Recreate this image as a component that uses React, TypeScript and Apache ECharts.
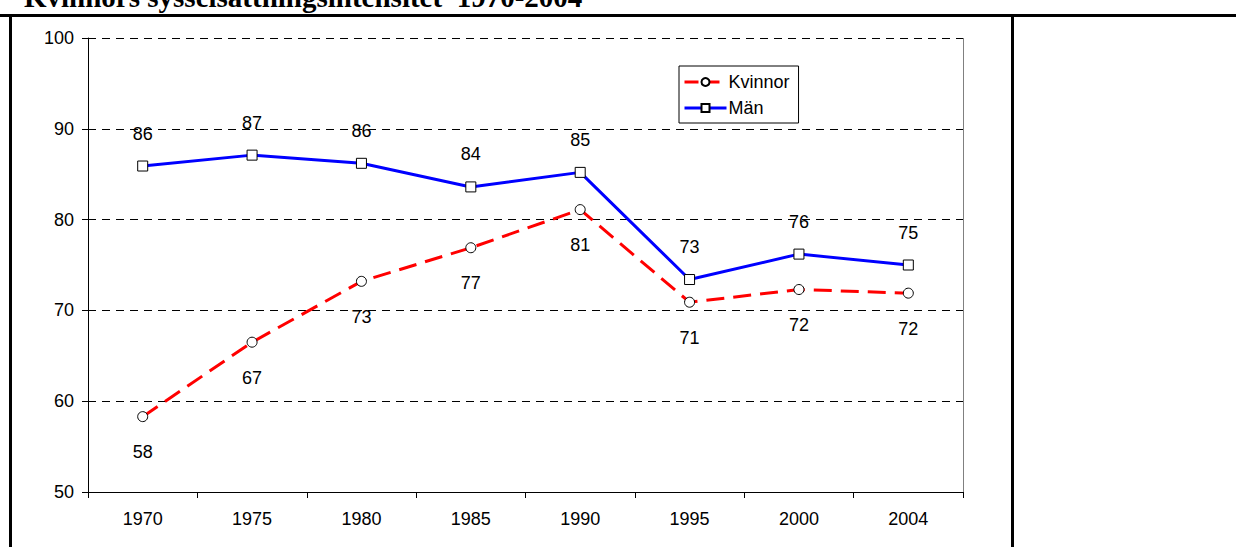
import React, { useEffect, useRef } from "react";
import * as echarts from "echarts";

const categories = ["1970", "1975", "1980", "1985", "1990", "1995", "2000", "2004"];
const kvinnor = [58.3, 66.5, 73.2, 76.9, 81.1, 70.9, 72.3, 71.9];
const man = [85.9, 87.1, 86.2, 83.6, 85.2, 73.4, 76.2, 75.0];
const titleText = "Kvinnors sysselsättningsintensitet  1970-2004";

const FONT = '"Liberation Sans", Arial, sans-serif';

export default function App() {
  const ref = useRef<HTMLDivElement>(null);
  useEffect(() => {
    if (!ref.current) return;
    const chart = echarts.init(ref.current, undefined, { renderer: "svg" });
    const gridLeft = 88, gridTop = 38, gridRight = 273, gridBottom = 55;
    chart.setOption({
      animation: false,
      backgroundColor: "#fff",
      textStyle: { fontFamily: FONT },
      grid: { left: gridLeft, top: gridTop, right: gridRight, bottom: gridBottom },
      legend: {
        orient: "vertical",
        left: 679,
        top: 66,
        padding: [5, 9, 4, 4],
        itemGap: 4,
        itemWidth: 42,
        itemHeight: 10,
        borderColor: "#000",
        borderWidth: 1,
        borderRadius: 0,
        textStyle: { fontSize: 18, color: "#000", fontFamily: FONT, lineHeight: 22, padding: [0, 0, 0, -3] },
        data: [
          { name: "Kvinnor", lineStyle: { width: 3, type: [14, 7], color: "#ff0000" } },
          { name: "Män", lineStyle: { width: 3, color: "#0000ff" } },
        ],
      },
      xAxis: {
        type: "category",
        data: categories,
        boundaryGap: true,
        axisLine: { lineStyle: { color: "#000", width: 1 } },
        axisTick: { show: true, length: 6, lineStyle: { color: "#000" } },
        axisLabel: { fontSize: 18, color: "#000", margin: 18, fontFamily: FONT },
        splitLine: { show: false },
      },
      yAxis: {
        type: "value",
        min: 50,
        max: 100,
        interval: 10,
        axisLine: { show: true, lineStyle: { color: "#000", width: 1 } },
        axisTick: { show: true, length: 6, lineStyle: { color: "#000" } },
        axisLabel: { fontSize: 18, color: "#000", margin: 14, fontFamily: FONT },
        splitLine: { show: true, lineStyle: { color: "#000", type: [8, 6], width: 1 } },
      },
      series: [
        {
          name: "Kvinnor",
          type: "line",
          data: kvinnor,
          symbol: "circle",
          symbolSize: 10,
          showAllSymbol: true,
          lineStyle: { color: "#ff0000", width: 3, type: [18, 9] },
          itemStyle: { color: "#fff", borderColor: "#000", borderWidth: 1 },
          label: {
            show: true,
            position: "bottom",
            distance: 21,
            fontSize: 18,
            color: "#000",
            fontFamily: FONT,
            formatter: (p: any) => String(Math.round(p.value)),
          },
          z: 3,
        },
        {
          name: "Män",
          type: "line",
          data: man,
          symbol: "rect",
          symbolSize: 10,
          showAllSymbol: true,
          lineStyle: { color: "#0000ff", width: 3 },
          itemStyle: { color: "#fff", borderColor: "#000", borderWidth: 1 },
          label: {
            show: true,
            position: "top",
            distance: 18,
            fontSize: 18,
            color: "#000",
            fontFamily: FONT,
            formatter: (p: any) => String(Math.round(p.value)),
          },
          z: 3,
        },
      ],
      graphic: [
        {
          type: "text",
          x: 24,
          y: -3,
          style: {
            text: titleText,
            font: 'bold 29px "Liberation Serif", "Times New Roman", serif',
            fill: "#000",
            textVerticalAlign: "middle",
            verticalAlign: "middle",
          },
        },
        { type: "line", shape: { x1: 0, y1: 15.5, x2: 1236, y2: 15.5 }, style: { stroke: "#000", lineWidth: 3 } },
        { type: "line", shape: { x1: 10.5, y1: 14, x2: 10.5, y2: 547 }, style: { stroke: "#000", lineWidth: 3 } },
        { type: "line", shape: { x1: 1012.5, y1: 14, x2: 1012.5, y2: 547 }, style: { stroke: "#000", lineWidth: 3 } },
        { type: "line", shape: { x1: 963.5, y1: 38, x2: 963.5, y2: 492 }, style: { stroke: "#808080", lineWidth: 1 } },
        { type: "line", shape: { x1: 963.5, y1: 492, x2: 963.5, y2: 498 }, style: { stroke: "#000", lineWidth: 1 } },
      ],
    });
    return () => chart.dispose();
  }, []);
  return (
    <div
      ref={ref}
      style={{ position: "absolute", left: 0, top: 0, width: 1236, height: 547 }}
    />
  );
}
